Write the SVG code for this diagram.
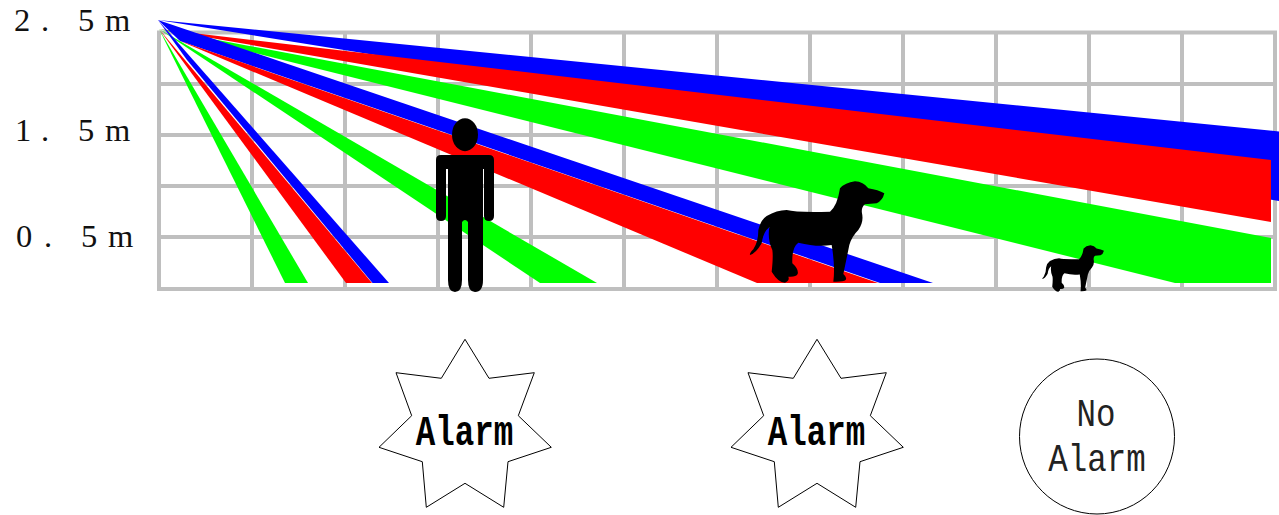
<svg xmlns="http://www.w3.org/2000/svg" xmlns:xlink="http://www.w3.org/1999/xlink" width="1279" height="515" viewBox="0 0 1279 515">
<style>
.grid{stroke:#bfbfbf;stroke-width:4;fill:none}
.b{fill:#0000ff}.r{fill:#ff0000}.g{fill:#00ff00}
.sil{fill:#000}
.lab{font-family:"Liberation Serif",serif;font-size:32.5px;fill:#111}
.shape{fill:#fff;stroke:#000;stroke-width:1}
.mono{font-family:"Liberation Mono",monospace;font-size:32.5px;fill:#000;text-anchor:middle}
.thin{fill:#222}
</style>
<defs>
<path id="dog" d="M463 70Q458 92 440 100L405 103Q393 112 396 130Q402 155 385 180Q365 200 358 225Q350 265 340 312Q352 322 347 330Q340 336 310 335Q316 290 305 225Q260 232 205 218Q185 232 187 280Q207 298 203 312Q198 322 175 320Q180 332 165 338Q145 338 125 305Q130 260 127 240Q112 210 118 172Q100 185 95 220Q78 250 60 255Q58 250 70 238Q85 215 85 180Q92 150 110 138Q140 120 170 120Q200 128 300 125Q322 108 330 55Q345 38 375 34Q400 35 415 55Q445 60 463 70Z"/>
<polygon id="star" points="465,339.3 489,378.3 534.3,372.7 518.3,415.7 551.3,447.3 508,461.7 503.7,507.3 465,483.3 426.3,507.3 422.3,461.7 379,447.3 411.7,415.7 396,372.7 441.3,378.3"/>
</defs>
<g id="grid" class="grid">
<path d="M159 32.5V289M252 32.5V289M345 32.5V289M438 32.5V289M531 32.5V289M624 32.5V289M717 32.5V289M810 32.5V289M903 32.5V289M996 32.5V289M1089 32.5V289M1182 32.5V289M1275 32.5V289"/>
<path d="M157 32.5H1277M157 84H1277M157 135H1277M157 186H1277M157 237H1277M157 289H1277"/>
</g>
<g id="beams">
<polygon class="b" points="158,20 1279,131.5 1279,201"/>
<polygon class="r" points="159,29 1271,160 1271,222"/>
<polygon class="g" points="159,29 1271,238 1271,283 1175,283"/>
<polygon class="b" points="158,20 933,283 880,283 180,41"/>
<polygon class="r" points="180,41 878,283 757,283"/>
<polygon class="g" points="159,29 597,283 540,283"/>
<polygon class="b" points="158,20 389,283 372.5,283 187,60"/>
<polygon class="r" points="159,29 372,283 346,283"/>
<polygon class="g" points="159,29 308,283 285,283"/>
</g>
<g id="labels">
<text class="lab" x="14 41 78 105" y="31">2.5m</text>
<text class="lab" x="15 41 78 105" y="141">1.5m</text>
<text class="lab" x="16 44 81 108" y="247">0.5m</text>
</g>
<g id="person" class="sil">
<ellipse cx="465" cy="134.7" rx="13" ry="16.5"/>
<path d="M441 155H489Q494 155 494 160V216Q494 221 489 221Q484 221 484 216V169H483V280Q483 292 475 292Q468 292 468 280V222Q465 218 462 222V280Q462 292 455 292Q448 292 448 280V169H446V216Q446 221 441 221Q436 221 436 216V160Q436 155 441 155Z"/>
</g>
<g id="dog-large" class="sil"><use href="#dog" xlink:href="#dog" transform="translate(730 170) scale(.3333)"/></g>
<g id="dog-small" class="sil"><use href="#dog" xlink:href="#dog" transform="translate(1033.1 240) scale(.153)"/></g>
<g id="alarm-1">
<use class="shape" href="#star" xlink:href="#star"/>
<text class="mono" font-weight="bold" transform="translate(464.5 445) scale(1 1.3)">Alarm</text>
</g>
<g id="alarm-2">
<use class="shape" href="#star" xlink:href="#star" x="352"/>
<text class="mono" font-weight="bold" transform="translate(816.5 445) scale(1 1.3)">Alarm</text>
</g>
<g id="no-alarm">
<circle class="shape" cx="1097" cy="436.5" r="77.5"/>
<text class="mono thin" transform="translate(1096 426) scale(1 1.2)">No</text>
<text class="mono thin" transform="translate(1097 471) scale(1 1.2)">Alarm</text>
</g>
</svg>
